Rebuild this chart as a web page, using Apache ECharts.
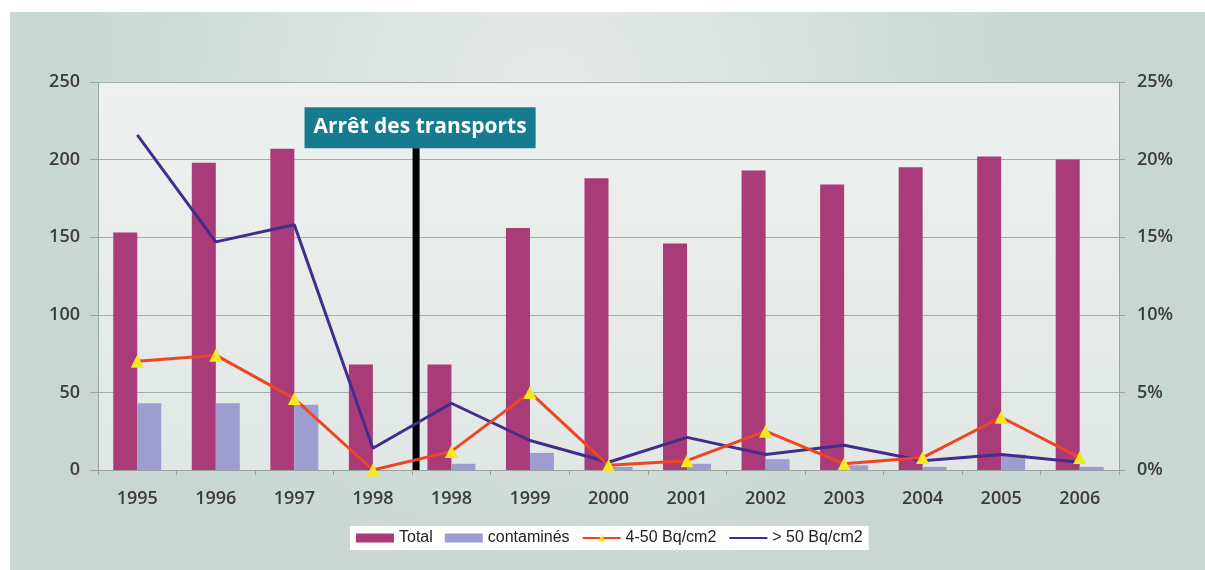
<!DOCTYPE html>
<html>
<head>
<meta charset="utf-8">
<script src="https://cdn.jsdelivr.net/npm/echarts@6/dist/echarts.min.js"></script>
<style>
html,body{margin:0;padding:0;background:#fff;width:1205px;height:570px;overflow:hidden;}
#c{position:absolute;left:10px;top:12px;width:1195px;height:558px;}
</style>
</head>
<body>
<div id="c"></div>
<script>
const categories = ['1995','1996','1997','1998','1998','1999','2000','2001','2002','2003','2004','2005','2006'];
const totalValues = [153, 198, 207, 68, 68, 156, 188, 146, 193, 184, 195, 202, 200];
const contaminesValues = [43, 43, 42, 0, 4, 11, 2, 4, 7, 3, 2, 10, 2];
const pct4to50 = [7.0, 7.4, 4.6, 0, 1.2, 5.0, 0.3, 0.6, 2.5, 0.4, 0.8, 3.4, 0.8];
const pctOver50 = [21.6, 14.7, 15.8, 1.4, 4.3, 1.9, 0.5, 2.1, 1.0, 1.6, 0.6, 1.0, 0.5];
const leftTicks = {min: 0, max: 250, interval: 50};
const rightTicks = {min: 0, max: 25, interval: 5};
const stopPosition = 3.55;     // just after the first 1998 category
const stopLineTop = 207;
const stopLabel = 'Arrêt des transports';

const chart = echarts.init(document.getElementById('c'));
const axisFont = {fontFamily: 'Open Sans', fontWeight: 600, fontSize: 18, color: '#3c3c3c'};
chart.setOption({
  animation: false,
  backgroundColor: {
    type: 'radial', x: 0.45, y: 0.15, r: 0.9,
    colorStops: [{offset: 0, color: '#e6eae8'}, {offset: 1, color: '#c9d7d2'}]
  },
  grid: {
    left: 88, right: 86, top: 70, bottom: 100, show: true, borderWidth: 0,
    backgroundColor: {
      type: 'linear', x: 0, y: 0, x2: 0, y2: 1,
      colorStops: [{offset: 0, color: '#eef1ef'}, {offset: 1, color: '#e0e7e4'}]
    }
  },
  legend: {
    data: [{name: 'Total', icon: 'rect'}, {name: 'contaminés', icon: 'rect'}, '4-50 Bq/cm2',
      {name: '> 50 Bq/cm2', itemStyle: {opacity: 0}}],
    left: 340, top: 514,
    backgroundColor: '#ffffff',
    padding: [4, 6, 4, 6],
    itemWidth: 38, itemHeight: 9, itemGap: 12,
    textStyle: {fontFamily: 'Liberation Sans', fontSize: 16, color: '#222'}
  },
  xAxis: [{
    type: 'category', data: categories,
    axisLine: {lineStyle: {color: '#98a39f', width: 1}},
    axisTick: {show: true, length: 5, lineStyle: {color: '#98a39f'}},
    axisLabel: Object.assign({margin: 20}, axisFont)
  }, {
    type: 'value', min: -0.5, max: 12.5, show: false
  }],
  yAxis: [{
    type: 'value', min: leftTicks.min, max: leftTicks.max, interval: leftTicks.interval,
    axisLine: {show: true, onZero: false, lineStyle: {color: '#98a39f'}},
    axisTick: {show: true, length: 8, lineStyle: {color: '#98a39f'}},
    splitLine: {lineStyle: {color: '#a3ada9', width: 1.2}},
    axisLabel: Object.assign({margin: 18}, axisFont)
  }, {
    type: 'value', min: rightTicks.min, max: rightTicks.max, interval: rightTicks.interval,
    position: 'right',
    axisLine: {show: true, onZero: false, lineStyle: {color: '#98a39f'}},
    axisTick: {show: true, length: 6, lineStyle: {color: '#98a39f'}},
    splitLine: {show: false},
    axisLabel: Object.assign({margin: 18, formatter: '{value}%'}, axisFont)
  }],
  series: [{
    name: 'Total', type: 'bar', data: totalValues, barWidth: 24, barGap: '0%',
    itemStyle: {color: '#a83b78'}
  }, {
    name: 'contaminés', type: 'bar', data: contaminesValues, barWidth: 24,
    itemStyle: {color: '#9e9dd0'}
  }, {
    name: 'stop', type: 'line', xAxisIndex: 1, yAxisIndex: 0,
    data: [[stopPosition, 0], {
      value: [stopPosition, stopLineTop], symbol: 'rect', symbolSize: [7, 1],
      label: {
        show: true, position: 'top', distance: 0, formatter: stopLabel,
        offset: [4, 0],
        backgroundColor: '#177b8f', color: '#ffffff',
        fontFamily: 'Open Sans', fontWeight: 700, fontSize: 21,
        padding: [8, 9, 9, 9], lineHeight: 24
      }
    }],
    symbol: 'none', lineStyle: {color: '#000', width: 7},
    itemStyle: {color: '#000'}, z: 3
  }, {
    name: '4-50 Bq/cm2', type: 'line', yAxisIndex: 1, data: pct4to50,
    symbol: 'triangle', symbolSize: 13,
    lineStyle: {color: '#ee4524', width: 3},
    itemStyle: {color: '#f2e823'}, z: 5
  }, {
    name: '> 50 Bq/cm2', type: 'line', yAxisIndex: 1, data: pctOver50,
    symbol: 'none', showSymbol: false,
    lineStyle: {color: '#432c8c', width: 3},
    itemStyle: {color: '#432c8c'}, z: 4
  }]
});
</script>
</body>
</html>
